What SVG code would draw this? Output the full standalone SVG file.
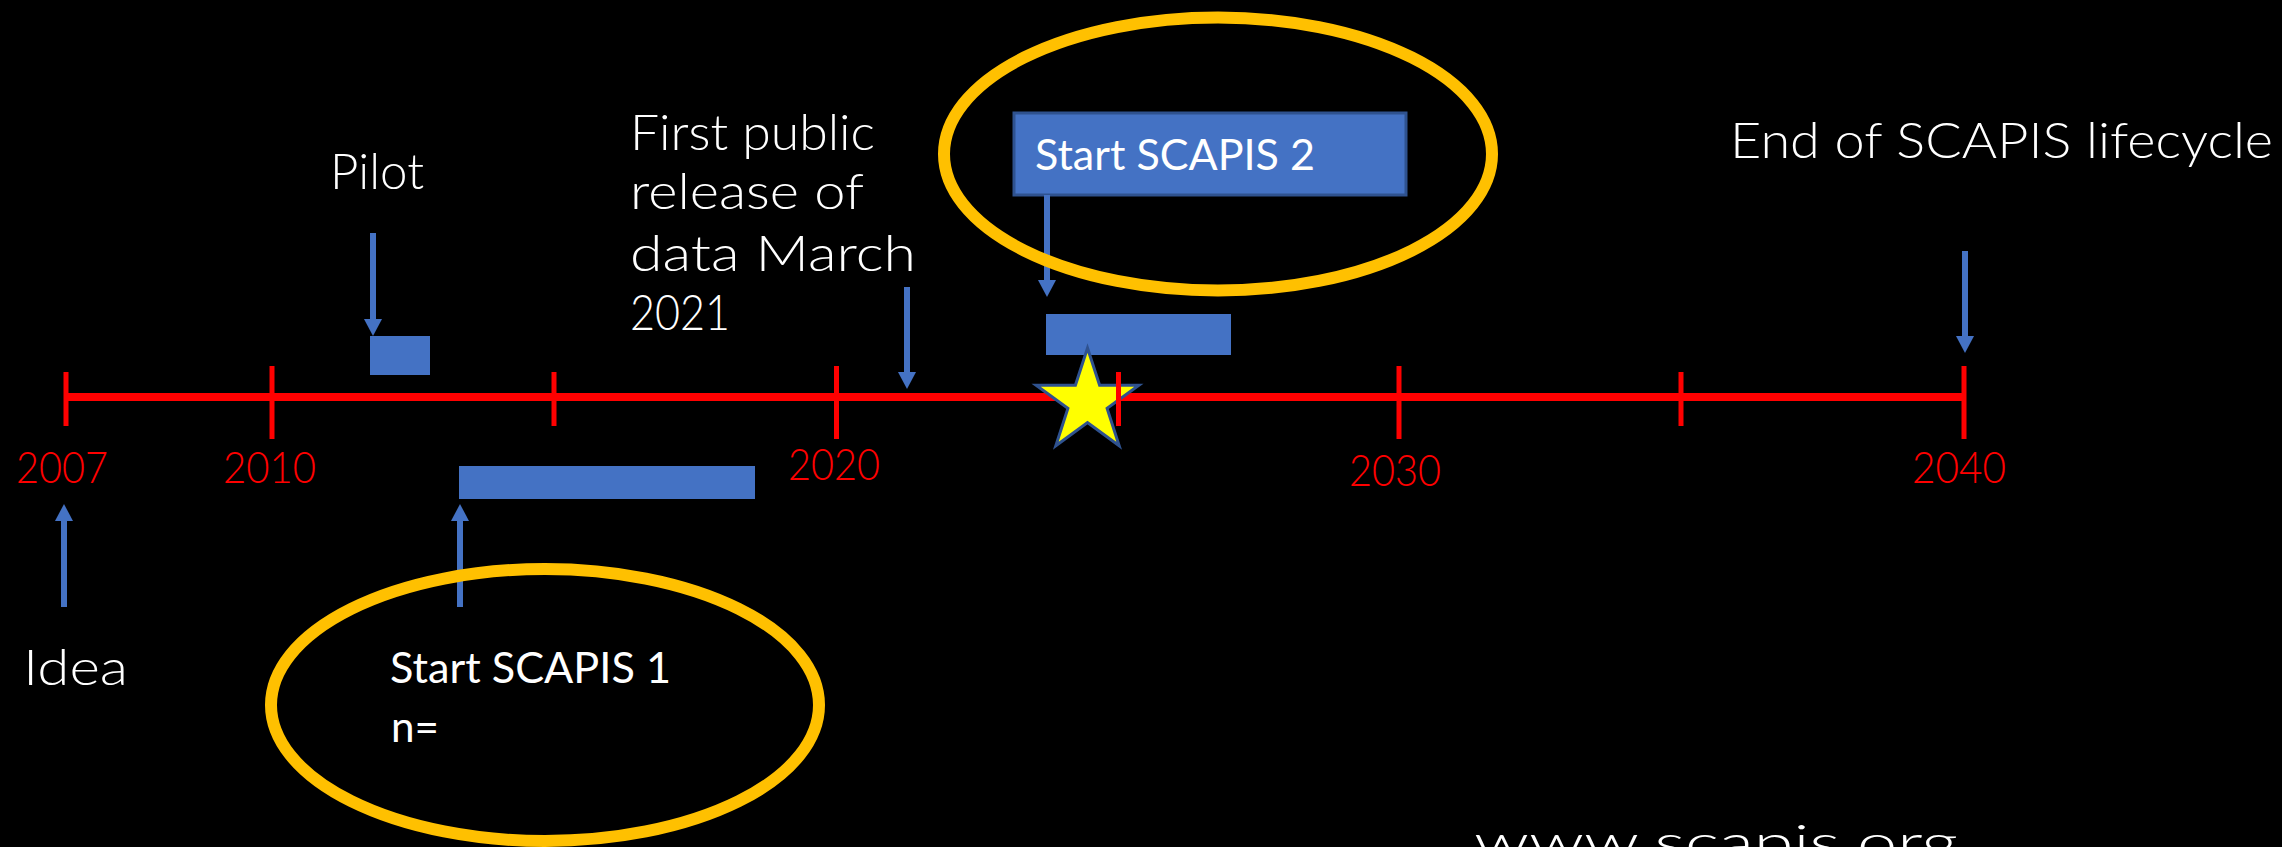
<svg xmlns="http://www.w3.org/2000/svg" width="2282" height="847" viewBox="0 0 2282 847">
  <style>
    .bg { fill: #000000; }
    .gothic { font-family: Lato, "Liberation Sans", sans-serif; font-weight: 300; fill: #FFFFFF; font-size: 50px; }
    .year { font-family: Lato, "Liberation Sans", sans-serif; font-weight: 300; fill: #FF0000; font-size: 43px; }
    .calibri { font-family: Lato, "Open Sans", "Liberation Sans", sans-serif; fill: #FFFFFF; font-size: 42px; }
    .axis { stroke: #FF0000; stroke-width: 8; fill: none; }
    .tick { stroke: #FF0000; stroke-width: 5; fill: none; }
    .bar { fill: #4472C4; }
    .ring { fill: none; stroke: #FFC000; stroke-width: 12; }
    .arrow { stroke: #4472C4; stroke-width: 6; fill: none; marker-end: url(#head); }
  </style>
  <defs>
    <marker id="head" viewBox="0 0 17 18" refX="0" refY="9" markerWidth="17" markerHeight="18" markerUnits="userSpaceOnUse" orient="auto">
      <path d="M0,0 L17,9 L0,18 Z" fill="#4472C4"/>
    </marker>
  </defs>
  <rect class="bg" x="0" y="0" width="2282" height="847"/>

  <g id="axis">
    <line class="axis" x1="66" y1="397" x2="1964" y2="397"/>
  </g>

  <g id="bar-pilot"><rect class="bar" x="370" y="336" width="60" height="39"/></g>
  <g id="bar-scapis1"><rect class="bar" x="459" y="466" width="296" height="33"/></g>
  <g id="bar-scapis2"><rect class="bar" x="1046" y="314" width="185" height="41"/></g>

  <g id="star">
    <polygon points="1087.5,348 1099.6,385.3 1138.9,385.3 1107.1,408.4 1119.2,445.7 1087.5,422.6 1055.8,445.7 1067.9,408.4 1036.1,385.3 1075.4,385.3" fill="#FFFF00" stroke="#2F528F" stroke-width="3" stroke-linejoin="miter"/>
  </g>

  <g id="ticks">
    <line class="tick" x1="66" y1="372" x2="66" y2="426"/>
    <line class="tick" x1="272" y1="366" x2="272" y2="439"/>
    <line class="tick" x1="554" y1="372" x2="554" y2="426"/>
    <line class="tick" x1="836.5" y1="366" x2="836.5" y2="439"/>
    <line class="tick" x1="1118.5" y1="372" x2="1118.5" y2="426"/>
    <line class="tick" x1="1399" y1="366" x2="1399" y2="439"/>
    <line class="tick" x1="1681" y1="372" x2="1681" y2="426"/>
    <line class="tick" x1="1964" y1="366" x2="1964" y2="439"/>
  </g>

  <g id="year-labels">
    <text class="year" x="16" y="483" textLength="92" lengthAdjust="spacingAndGlyphs">2007</text>
    <text class="year" x="223" y="483" textLength="93" lengthAdjust="spacingAndGlyphs">2010</text>
    <text class="year" x="788" y="480" textLength="92" lengthAdjust="spacingAndGlyphs">2020</text>
    <text class="year" x="1349" y="486" textLength="92" lengthAdjust="spacingAndGlyphs">2030</text>
    <text class="year" x="1912" y="483" textLength="94" lengthAdjust="spacingAndGlyphs">2040</text>
  </g>

  <g id="node-pilot">
    <text class="gothic" x="330" y="189" textLength="94" lengthAdjust="spacingAndGlyphs">Pilot</text>
  </g>
  <g id="node-release">
    <text class="gothic" x="630" y="150" textLength="245" lengthAdjust="spacingAndGlyphs">First public</text>
    <text class="gothic" x="630" y="209" textLength="234" lengthAdjust="spacingAndGlyphs">release of</text>
    <text class="gothic" x="630" y="271" textLength="286" lengthAdjust="spacingAndGlyphs">data March</text>
    <text class="gothic" x="630" y="330" textLength="100" lengthAdjust="spacingAndGlyphs">2021</text>
  </g>
  <g id="node-end">
    <text class="gothic" x="1730" y="158" textLength="543" lengthAdjust="spacingAndGlyphs">End of SCAPIS lifecycle</text>
  </g>
  <g id="node-idea">
    <text class="gothic" x="23" y="685" textLength="105" lengthAdjust="spacingAndGlyphs">Idea</text>
  </g>
  <g id="node-scapis2">
    <rect x="1014" y="113" width="392" height="82" fill="#4472C4" stroke="#2F528F" stroke-width="3"/>
    <text class="calibri" x="1035" y="170" textLength="280" lengthAdjust="spacingAndGlyphs">Start SCAPIS 2</text>
  </g>
  <g id="node-scapis1">
    <text class="calibri" x="390" y="683" textLength="281" lengthAdjust="spacingAndGlyphs">Start SCAPIS 1</text>
    <text class="calibri" x="391" y="742" textLength="48" lengthAdjust="spacingAndGlyphs">n=</text>
  </g>
  <g id="node-url">
    <text class="gothic" x="1474" y="860" font-size="52" textLength="484" lengthAdjust="spacingAndGlyphs">www.scapis.org</text>
  </g>

  <g id="connectors">
    <line class="arrow" x1="373" y1="233" x2="373" y2="319"/>
    <line class="arrow" x1="907" y1="287" x2="907" y2="372"/>
    <line class="arrow" x1="1047" y1="195" x2="1047" y2="280"/>
    <line class="arrow" x1="1965" y1="251" x2="1965" y2="336"/>
    <line class="arrow" x1="64" y1="607" x2="64" y2="521"/>
    <line class="arrow" x1="460" y1="607" x2="460" y2="521"/>
  </g>

  <g id="ring-scapis2">
    <ellipse class="ring" cx="1218" cy="154" rx="274" ry="136.5"/>
  </g>
  <g id="ring-scapis1">
    <ellipse class="ring" cx="545" cy="705" rx="274" ry="136"/>
  </g>
</svg>
